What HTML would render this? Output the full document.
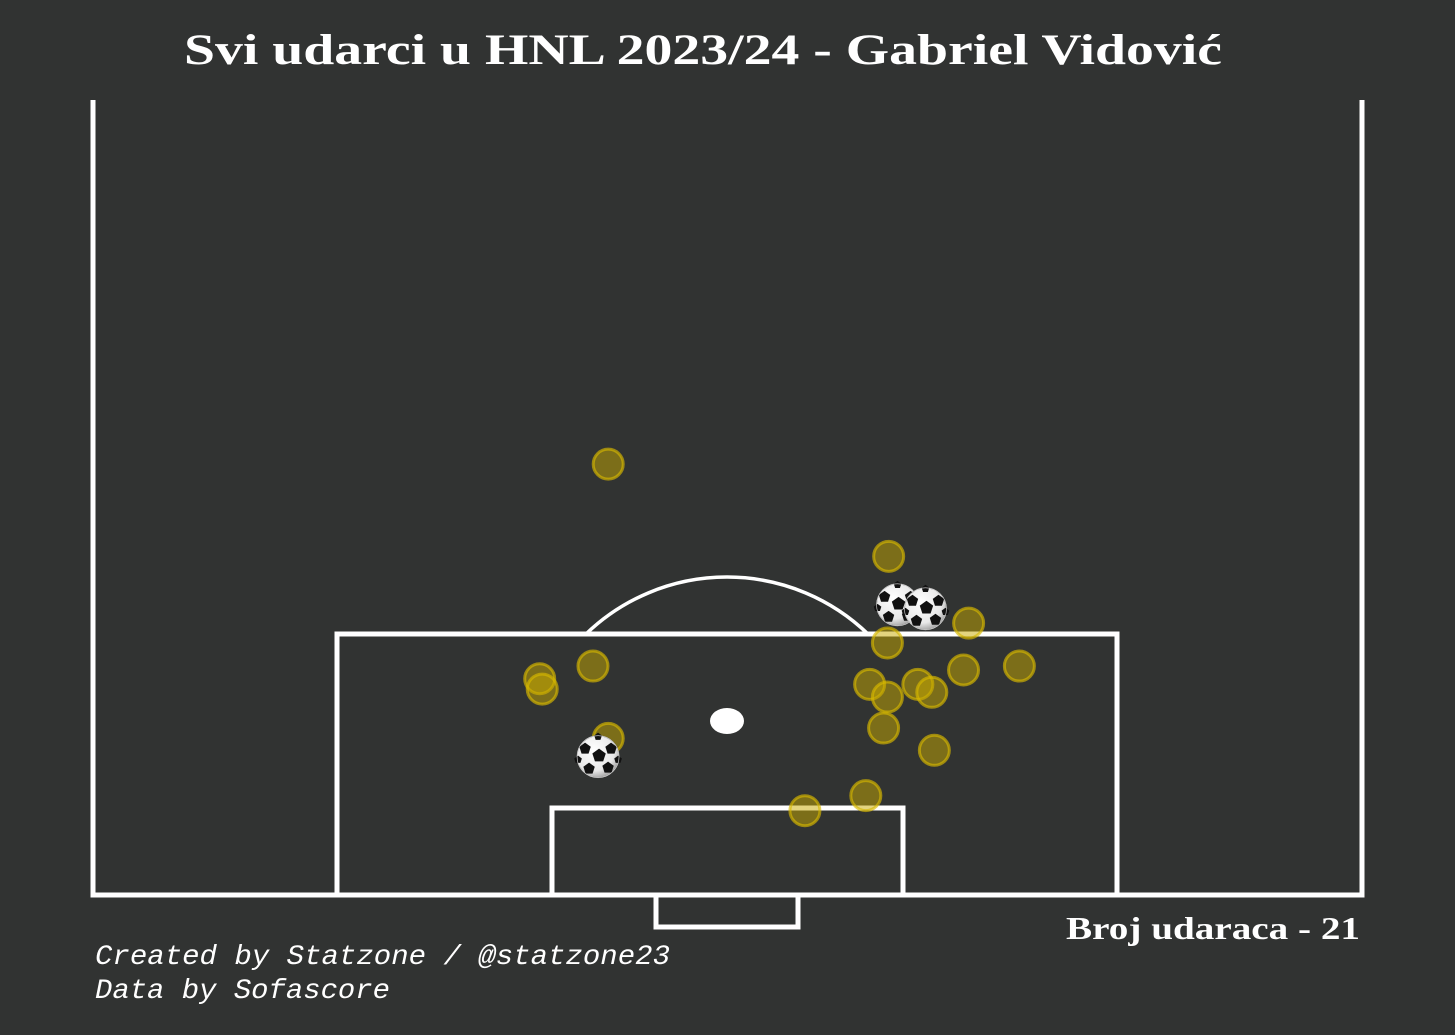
<!DOCTYPE html>
<html><head><meta charset="utf-8">
<style>
html,body{margin:0;padding:0;background:#313332;}
svg{display:block;}
</style></head>
<body>
<svg width="1455" height="1035" viewBox="0 0 1455 1035">
<defs>
<radialGradient id="ballg" cx="0.4" cy="0.35" r="0.7">
<stop offset="0" stop-color="#ffffff"/><stop offset="0.7" stop-color="#e8e8e8"/><stop offset="1" stop-color="#9a9a9a"/>
</radialGradient>
</defs>
<rect x="0" y="0" width="1455" height="1035" fill="#313332"/>
<text x="184" y="64" textLength="1038" lengthAdjust="spacingAndGlyphs" fill="#ffffff" font-family="Liberation Serif, serif" font-weight="bold" font-size="43">Svi udarci u HNL 2023/24 - Gabriel Vidović</text>
<g fill="none" stroke="#ffffff" stroke-width="5">
<polyline points="93,100 93,895 1362,895 1362,100"/>
<polyline points="337,895 337,634 1117,634 1117,895"/>
<polyline points="552,895 552,808 903,808 903,895"/>
<polyline points="656,895 656,927 798,927 798,895"/>
<path d="M586,634 A203,203 0 0 1 868,634" stroke-width="3.5"/>
</g>
<ellipse cx="727" cy="721" rx="17" ry="13" fill="#ffffff"/>
<g id="shots"></g>
<text x="1066" y="939" textLength="294" lengthAdjust="spacingAndGlyphs" fill="#ffffff" font-family="Liberation Serif, serif" font-weight="bold" font-size="32">Broj udaraca - 21</text>
<text x="95" y="964" textLength="575" lengthAdjust="spacingAndGlyphs" fill="#ffffff" font-family="Liberation Mono, monospace" font-style="italic" font-size="28">Created by Statzone / @statzone23</text>
<text x="95" y="998" textLength="295" lengthAdjust="spacingAndGlyphs" fill="#ffffff" font-family="Liberation Mono, monospace" font-style="italic" font-size="28">Data by Sofascore</text>
</svg>
<script>
const shotX = [40.6,62.7,69.0,62.6,39.4,35.2,35.4,61.2,62.6,65.0,66.1,68.6,73.0,62.3,66.3,40.6,60.9,56.1,63.4,65.6,39.8];
const shotY = [54.2,42.6,34.2,31.7,28.8,27.2,25.9,26.5,24.9,26.5,25.5,28.3,28.8,21.0,18.2,19.7,12.5,10.6,36.5,36.0,17.4];
const shotType = ['shot','shot','shot','shot','shot','shot','shot','shot','shot','shot','shot','shot','shot','shot','shot','shot','shot','shot','goal','goal','goal'];
function sx(v){return 93 + v/100*1269;}
function sy(v){return 895 - v/100*795;}
const NS='http://www.w3.org/2000/svg';
const g=document.getElementById('shots');
function mk(tag,attrs){const e=document.createElementNS(NS,tag);for(const k in attrs)e.setAttribute(k,attrs[k]);return e;}
for(let i=0;i<shotX.length;i++){
  if(shotType[i]!=='shot')continue;
  const c=mk('circle',{cx:sx(shotX[i]),cy:sy(shotY[i]),r:15,fill:'rgba(200,170,0,0.5)',stroke:'rgba(215,185,0,0.65)','stroke-width':3});
  
  
  g.appendChild(c);
}
for(let i=0;i<shotX.length;i++){
  if(shotType[i]!=='goal')continue;
  const x=sx(shotX[i]),y=sy(shotY[i]);
  const b=mk('g',{transform:'translate('+x+','+y+')'});
  
  
  b.appendChild(mk('circle',{cx:0,cy:0,r:21,fill:'url(#ballg)',stroke:'#666','stroke-width':0.8}));
  const pents=[[1,-1,7],[-13,-8,6],[13,-8,6],[-9,12,6],[10,11,6],[0,-20,4],[-20,3,4],[20,3,4]];
  pents.forEach(p=>{
    let pts=[];for(let k=0;k<5;k++){const a=-Math.PI/2+k*2*Math.PI/5;pts.push((p[0]+p[2]*Math.cos(a)).toFixed(1)+','+(p[1]+p[2]*Math.sin(a)).toFixed(1));}
    b.appendChild(mk('polygon',{points:pts.join(' '),fill:'#111'}));
  });
  b.appendChild(mk('circle',{cx:0,cy:0,r:21,fill:'none',stroke:'#ddd','stroke-width':0.6}));
  g.appendChild(b);
}
</script>
</body></html>
